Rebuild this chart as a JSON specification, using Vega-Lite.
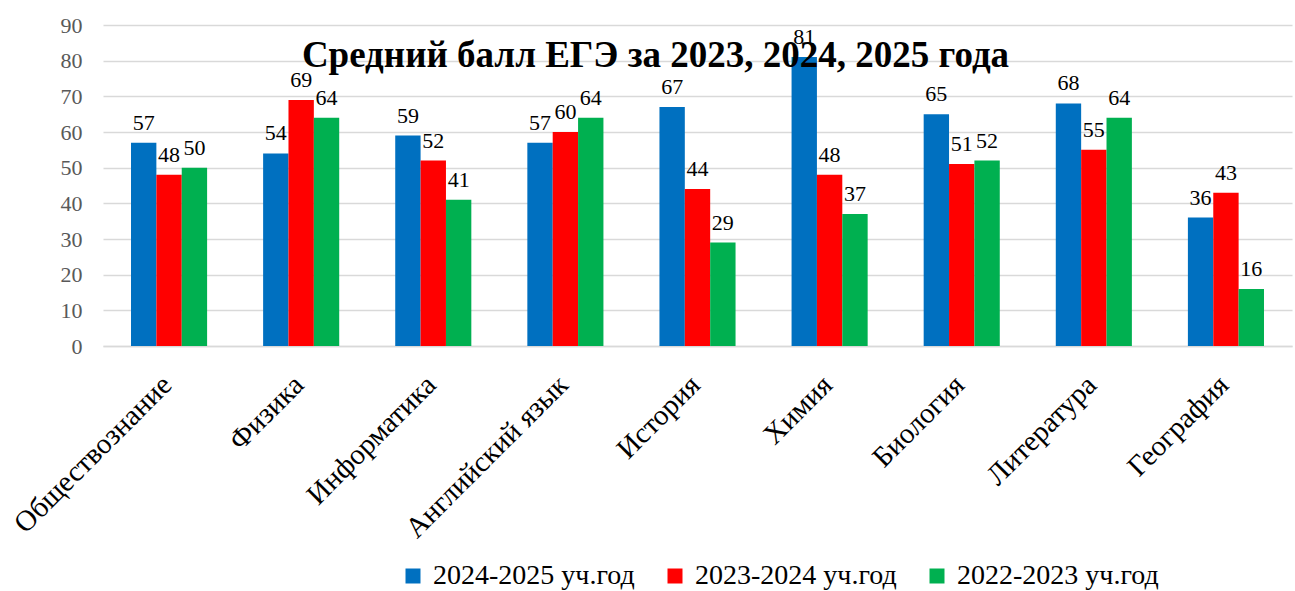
{
  "$schema": "https://vega.github.io/schema/vega-lite/v6.json",
  "width": 1189,
  "height": 321,
  "autosize": {"type": "none"},
  "padding": {"left": 103, "top": 25, "right": 3, "bottom": 245},
  "background": "white",
  "config": {
    "font": "Liberation Serif, Times New Roman, serif",
    "view": {"stroke": null}
  },
  "title": {
    "text": "Средний балл ЕГЭ за 2023, 2024, 2025 года",
    "font": "Liberation Serif, Times New Roman, serif",
    "fontSize": 37,
    "fontWeight": "bold",
    "color": "black",
    "anchor": "middle",
    "dx": -42,
    "dy": 65
  },
  "data": {
    "values": [
      {"subject": "Обществознание", "year": "2024-2025 уч.год", "score": 57},
      {"subject": "Обществознание", "year": "2023-2024 уч.год", "score": 48},
      {"subject": "Обществознание", "year": "2022-2023 уч.год", "score": 50},
      {"subject": "Физика", "year": "2024-2025 уч.год", "score": 54},
      {"subject": "Физика", "year": "2023-2024 уч.год", "score": 69},
      {"subject": "Физика", "year": "2022-2023 уч.год", "score": 64},
      {"subject": "Информатика", "year": "2024-2025 уч.год", "score": 59},
      {"subject": "Информатика", "year": "2023-2024 уч.год", "score": 52},
      {"subject": "Информатика", "year": "2022-2023 уч.год", "score": 41},
      {"subject": "Английский язык", "year": "2024-2025 уч.год", "score": 57},
      {"subject": "Английский язык", "year": "2023-2024 уч.год", "score": 60},
      {"subject": "Английский язык", "year": "2022-2023 уч.год", "score": 64},
      {"subject": "История", "year": "2024-2025 уч.год", "score": 67},
      {"subject": "История", "year": "2023-2024 уч.год", "score": 44},
      {"subject": "История", "year": "2022-2023 уч.год", "score": 29},
      {"subject": "Химия", "year": "2024-2025 уч.год", "score": 81},
      {"subject": "Химия", "year": "2023-2024 уч.год", "score": 48},
      {"subject": "Химия", "year": "2022-2023 уч.год", "score": 37},
      {"subject": "Биология", "year": "2024-2025 уч.год", "score": 65},
      {"subject": "Биология", "year": "2023-2024 уч.год", "score": 51},
      {"subject": "Биология", "year": "2022-2023 уч.год", "score": 52},
      {"subject": "Литература", "year": "2024-2025 уч.год", "score": 68},
      {"subject": "Литература", "year": "2023-2024 уч.год", "score": 55},
      {"subject": "Литература", "year": "2022-2023 уч.год", "score": 64},
      {"subject": "География", "year": "2024-2025 уч.год", "score": 36},
      {"subject": "География", "year": "2023-2024 уч.год", "score": 43},
      {"subject": "География", "year": "2022-2023 уч.год", "score": 16}
    ]
  },
  "encoding": {
    "x": {
      "field": "subject",
      "type": "nominal",
      "sort": null,
      "scale": {"paddingInner": 0.424, "paddingOuter": 0.212},
      "axis": {
        "title": null,
        "labelAngle": -45,
        "labelFont": "Liberation Serif, Times New Roman, serif",
        "labelFontSize": 29,
        "labelColor": "black",
        "labelPadding": 24,
        "labelOffset": -12,
        "ticks": false,
        "domainColor": "#d9d9d9",
        "domainWidth": 1.5,
        "labelLimit": 400
      }
    },
    "xOffset": {"field": "year", "type": "nominal", "sort": null},
    "y": {
      "field": "score",
      "type": "quantitative",
      "scale": {"domain": [0, 90]},
      "axis": {
        "title": null,
        "values": [0, 10, 20, 30, 40, 50, 60, 70, 80, 90],
        "labelFont": "Liberation Serif, Times New Roman, serif",
        "labelFontSize": 22,
        "labelColor": "#595959",
        "labelPadding": 21,
        "ticks": false,
        "domain": false,
        "gridColor": "#d9d9d9",
        "gridWidth": 1.5
      }
    }
  },
  "layer": [
    {
      "mark": {"type": "bar"},
      "encoding": {
        "color": {
          "field": "year",
          "type": "nominal",
          "sort": null,
          "scale": {
            "domain": ["2024-2025 уч.год", "2023-2024 уч.год", "2022-2023 уч.год"],
            "range": ["#0070C0", "#FF0000", "#00B050"]
          },
          "legend": {
            "title": null,
            "orient": "none",
            "direction": "horizontal",
            "legendX": 296,
            "legendY": 537,
            "symbolType": "square",
            "symbolSize": 225,
            "symbolStrokeWidth": 0,
            "labelFont": "Liberation Serif, Times New Roman, serif",
            "labelFontSize": 28,
            "labelLimit": 400,
            "labelColor": "black",
            "columnPadding": 26,
            "labelOffset": 6
          }
        }
      }
    },
    {
      "mark": {
        "type": "text",
        "baseline": "bottom",
        "dy": -8,
        "font": "Liberation Serif, Times New Roman, serif",
        "fontSize": 22,
        "color": "black"
      },
      "encoding": {
        "text": {"field": "score", "type": "quantitative"}
      }
    }
  ]
}
